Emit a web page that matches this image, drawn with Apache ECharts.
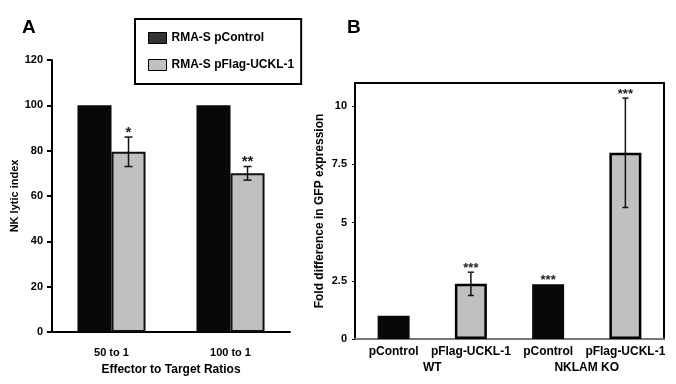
<!DOCTYPE html>
<html>
<head>
<meta charset="utf-8">
<script src="https://cdn.jsdelivr.net/npm/echarts@6/dist/echarts.min.js"></script>
<style>html,body{margin:0;padding:0;background:#fff}#c{width:676px;height:384px}</style>
</head>
<body>
<div id="c"></div>
<script>
// Panel A data
const catsA = ['50 to 1', '100 to 1'];
const controlA = [100, 100];
const flagA = [79.5, 70];
const flagErrA = [6.5, 3];
const starsA = ['*', '**'];
const yTicksA = [0, 20, 40, 60, 80, 100, 120];
// Panel B data
const catsB = ['pControl', 'pFlag-UCKL-1', 'pControl', 'pFlag-UCKL-1'];
const groupsB = ['WT', 'NKLAM KO'];
const valuesB = [1, 2.37, 2.35, 8];
const errB = [0, 0.5, 0, 2.35];
const starsB = ['', '***', '***', '***'];
const kindB = ['control', 'flag', 'control', 'flag'];
const yTicksB = [0, 2.5, 5, 7.5, 10];

const FONT = "'Liberation Sans', Arial, sans-serif";
const BLACK = '#070909';
const GRAY = '#c0c0c0';
const BAR_A = 0.286;
const BAR_B = 0.414;

function errRenderer(values, errs, stars, offRatio, cap, starSize) {
  return function (params, api) {
    const i = params.dataIndex;
    const v = values[i], e = errs[i];
    const band = api.size([1, 0])[0];
    const off = band * offRatio;
    const top = api.coord([i, v + e]);
    const bot = api.coord([i, v - e]);
    const x = top[0] + off;
    const children = [];
    const st = { stroke: '#111', lineWidth: 1.5 };
    if (e > 0) {
      children.push({ type: 'line', shape: { x1: x, y1: top[1], x2: x, y2: bot[1] }, style: st });
      children.push({ type: 'line', shape: { x1: x - cap, y1: top[1], x2: x + cap, y2: top[1] }, style: st });
      children.push({ type: 'line', shape: { x1: x - cap, y1: bot[1], x2: x + cap, y2: bot[1] }, style: st });
    }
    if (stars[i]) {
      children.push({ type: 'text', style: { text: stars[i], x: x, y: top[1] + 3, textAlign: 'center', textVerticalAlign: 'bottom', font: 'bold ' + starSize + 'px ' + FONT, fill: '#222' } });
    }
    return { type: 'group', children: children };
  };
}

const chart = echarts.init(document.getElementById('c'), null, { renderer: 'canvas' });
chart.setOption({
  animation: false,
  textStyle: { fontFamily: FONT },
  title: [
    { text: 'A', left: 17, top: 13, textStyle: { fontSize: 19, fontWeight: 'bold', color: '#000', fontFamily: FONT } },
    { text: 'B', left: 342, top: 13, textStyle: { fontSize: 19, fontWeight: 'bold', color: '#000', fontFamily: FONT } }
  ],
  legend: {
    orient: 'vertical', left: 135, top: 19,
    padding: [13, 7, 13, 13], itemGap: 15,
    itemWidth: 18, itemHeight: 11,
    borderColor: '#000', borderWidth: 2, backgroundColor: '#fff',
    textStyle: { fontSize: 12, fontWeight: 'bold', color: '#000', lineHeight: 12, fontFamily: FONT },
    data: [
      { name: 'RMA-S pControl', icon: 'rect', itemStyle: { color: '#333', borderColor: '#000', borderWidth: 1 } },
      { name: 'RMA-S pFlag-UCKL-1', icon: 'rect', itemStyle: { color: GRAY, borderColor: '#000', borderWidth: 1 } }
    ]
  },
  grid: [
    { left: 52, top: 60, width: 238, height: 272 },
    { left: 355, top: 83, width: 309, height: 256, show: true, borderColor: '#000', borderWidth: 2, backgroundColor: 'transparent' }
  ],
  xAxis: [
    { gridIndex: 0, type: 'category', data: catsA,
      axisLine: { lineStyle: { color: '#000', width: 2 } },
      axisTick: { length: 5, lineStyle: { color: '#000', width: 2 } },
      axisLabel: { margin: 15, fontSize: 11, fontWeight: 'bold', color: '#000' },
      name: 'Effector to Target Ratios', nameLocation: 'middle', nameGap: 32,
      nameTextStyle: { fontSize: 12, fontWeight: 'bold', color: '#000' } },
    { gridIndex: 1, type: 'category', data: catsB, position: 'bottom',
      axisLine: { lineStyle: { color: '#777', width: 2 } },
      axisTick: { show: false },
      axisLabel: { margin: 7, fontSize: 12, fontWeight: 'bold', color: '#000', interval: 0 } },
    { gridIndex: 1, type: 'category', data: groupsB, position: 'bottom',
      axisLine: { show: false }, axisTick: { show: false },
      axisLabel: { margin: 23, fontSize: 12, fontWeight: 'bold', color: '#000', interval: 0 } }
  ],
  yAxis: [
    { gridIndex: 0, type: 'value', min: yTicksA[0], max: yTicksA[yTicksA.length - 1], interval: 20,
      splitLine: { show: false },
      axisLine: { show: true, lineStyle: { color: '#000', width: 2 } },
      axisTick: { show: true, length: 5, lineStyle: { color: '#000', width: 2 } },
      axisLabel: { margin: 9, fontSize: 11, fontWeight: 'bold', color: '#000' },
      name: 'NK lytic index', nameLocation: 'middle', nameGap: 29,
      nameTextStyle: { fontSize: 11, fontWeight: 'bold', color: '#000' } },
    { gridIndex: 1, type: 'value', min: 0, max: 11, interval: 2.5,
      splitLine: { show: false },
      axisLine: { show: true, lineStyle: { color: '#000', width: 2 } },
      axisTick: { show: true, length: 3, lineStyle: { color: '#000', width: 1 } },
      axisLabel: { margin: 8, fontSize: 11, fontWeight: 'bold', color: '#000', showMaxLabel: false,
        formatter: function (v) { return yTicksB.indexOf(v) >= 0 ? String(v) : ''; } },
      name: 'Fold difference in GFP expression', nameLocation: 'middle', nameGap: 29,
      nameTextStyle: { fontSize: 12, fontWeight: 'bold', color: '#000' } }
  ],
  series: [
    { name: 'RMA-S pControl', type: 'bar', xAxisIndex: 0, yAxisIndex: 0, data: controlA,
      barWidth: (BAR_A * 100) + '%', barGap: '0%',
      itemStyle: { color: BLACK, borderColor: BLACK, borderWidth: 0 } },
    { name: 'RMA-S pFlag-UCKL-1', type: 'bar', xAxisIndex: 0, yAxisIndex: 0, data: flagA,
      barWidth: (BAR_A * 100) + '%', barGap: '0%',
      itemStyle: { color: GRAY, borderColor: '#111', borderWidth: 2 } },
    { name: 'errA', type: 'custom', xAxisIndex: 0, yAxisIndex: 0, data: flagA.map((v, i) => [i, v + flagErrA[i]]),
      encode: { x: 0, y: 1 }, z: 5,
      renderItem: errRenderer(flagA, flagErrA, starsA, BAR_A / 2, 4, 15) },
    { name: 'B', type: 'bar', xAxisIndex: 1, yAxisIndex: 1,
      barWidth: (BAR_B * 100) + '%',
      data: valuesB.map((v, i) => ({ value: v, itemStyle: kindB[i] === 'flag'
        ? { color: GRAY, borderColor: '#000', borderWidth: 2.5 }
        : { color: BLACK, borderColor: BLACK, borderWidth: 0 } })) },
    { name: 'errB', type: 'custom', xAxisIndex: 1, yAxisIndex: 1, data: valuesB.map((v, i) => [i, v + errB[i]]),
      encode: { x: 0, y: 1 }, z: 5,
      renderItem: errRenderer(valuesB, errB, starsB, 0, 3, 13) }
  ]
});
</script>
</body>
</html>
